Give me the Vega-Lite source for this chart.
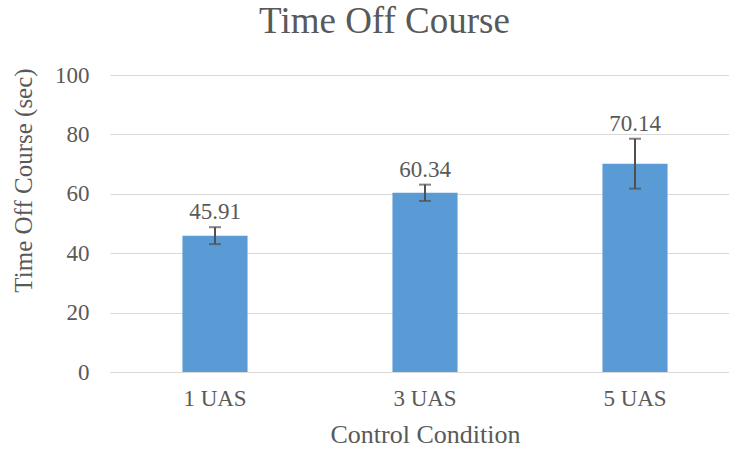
{
  "$schema": "https://vega.github.io/schema/vega-lite/v6.json",
  "width": 619,
  "height": 297,
  "autosize": {"type": "none"},
  "padding": {"left": 110, "top": 75, "right": 0, "bottom": 78},
  "background": "white",
  "title": {
    "text": "Time Off Course",
    "font": "Liberation Serif",
    "fontSize": 37,
    "fontWeight": "normal",
    "color": "#595959",
    "anchor": "middle",
    "frame": "group",
    "offset": 23,
    "dx": -35
  },
  "config": {
    "font": "Liberation Serif",
    "view": {"stroke": null},
    "axis": {
      "labelFont": "Liberation Serif",
      "titleFont": "Liberation Serif",
      "labelColor": "#595959",
      "titleColor": "#595959",
      "titleFontWeight": "normal",
      "ticks": false
    },
    "text": {"font": "Liberation Serif"}
  },
  "data": {
    "values": [
      {"condition": "1 UAS", "mean": 45.91, "lower": 43.06, "upper": 48.76},
      {"condition": "3 UAS", "mean": 60.34, "lower": 57.59, "upper": 63.09},
      {"condition": "5 UAS", "mean": 70.14, "lower": 61.74, "upper": 78.54}
    ]
  },
  "encoding": {
    "x": {
      "field": "condition",
      "type": "nominal",
      "sort": null,
      "scale": {"range": [0, 630], "paddingInner": 0.69, "paddingOuter": 0.345},
      "axis": {
        "title": "Control Condition",
        "labelAngle": 0,
        "labelFontSize": 23,
        "titleFontSize": 26,
        "labelPadding": 15,
        "titlePadding": 11,
        "domainColor": "#d9d9d9",
        "domainWidth": 1,
        "grid": false
      }
    }
  },
  "layer": [
    {
      "mark": {"type": "bar", "color": "#5B9BD5"},
      "encoding": {
        "y": {
          "field": "mean",
          "type": "quantitative",
          "title": "Time Off Course (sec)",
          "scale": {"domain": [0, 100]},
          "axis": {
            "title": "Time Off Course (sec)",
            "values": [0, 20, 40, 60, 80, 100],
            "labelFontSize": 23,
            "titleFontSize": 25,
            "labelPadding": 21,
            "titlePadding": 18,
            "titleY": 105,
            "domain": false,
            "gridColor": "#d9d9d9",
            "gridWidth": 1
          }
        }
      }
    },
    {
      "mark": {
        "type": "errorbar",
        "ticks": {"size": 12, "thickness": 2, "color": "#505050"},
        "rule": {"strokeWidth": 2, "color": "#505050"}
      },
      "encoding": {
        "y": {"field": "lower", "type": "quantitative", "title": "Time Off Course (sec)"},
        "y2": {"field": "upper", "title": "Time Off Course (sec)"}
      }
    },
    {
      "mark": {
        "type": "text",
        "font": "Liberation Serif",
        "fontSize": 23,
        "color": "#595959",
        "baseline": "alphabetic",
        "dy": -8
      },
      "encoding": {
        "y": {"field": "upper", "type": "quantitative", "title": "Time Off Course (sec)"},
        "text": {"field": "mean", "type": "quantitative", "format": ".2f"}
      }
    }
  ]
}
